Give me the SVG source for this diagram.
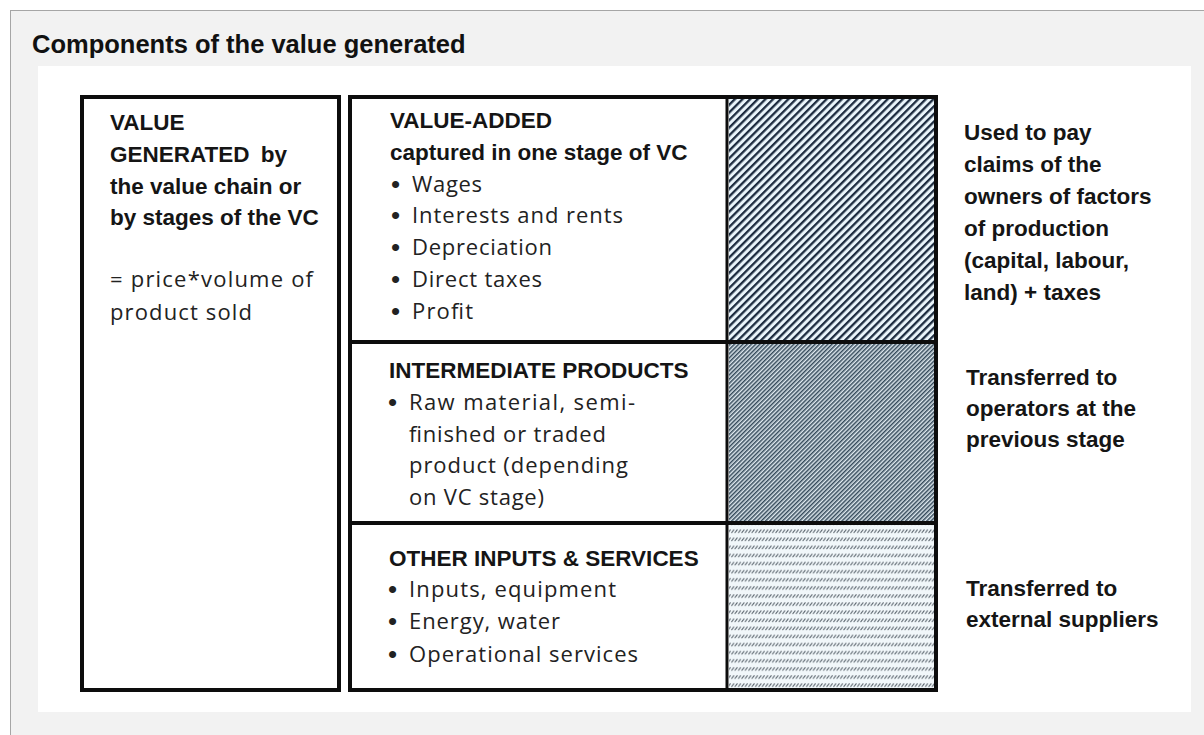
<svg xmlns="http://www.w3.org/2000/svg" width="1204" height="735" viewBox="0 0 1204 735">
<defs>
<style>
.title{font-family:"Liberation Sans",Arial,sans-serif;font-weight:bold;font-size:25.5px;fill:#111}
.hd{font-family:"Liberation Sans",Arial,sans-serif;font-weight:bold;font-size:22.5px;fill:#151515}
.bd{font-family:"Open Sans","Liberation Sans",sans-serif;font-size:22px;fill:#222}
.bul{font-family:"Liberation Sans",Arial,sans-serif;font-size:26px;fill:#222}
.box{fill:#fff;stroke:#0d0d0d;stroke-width:4}
.div{stroke:#0d0d0d;stroke-width:4;fill:none}
</style>
<pattern id="hVA" patternUnits="userSpaceOnUse" width="5.4" height="5.4" patternTransform="rotate(45)">
<rect width="5.4" height="5.4" fill="#eaf5fb"/>
<rect width="2.3" height="5.4" fill="#1c2b3f"/>
</pattern>
<pattern id="hIP" patternUnits="userSpaceOnUse" width="3" height="3" patternTransform="rotate(45)">
<rect width="3" height="3" fill="#dfe9ef"/>
<rect width="1.5" height="3" fill="#34495a"/>
</pattern>
<pattern id="hOI" patternUnits="userSpaceOnUse" width="3.4" height="8.1">
<rect width="3.4" height="8.1" fill="#f1f7fa"/>
<line x1="0.4" y1="6.4" x2="3.0" y2="3.0" stroke="#59636c" stroke-width="1"/>
</pattern>
</defs>

<rect x="10.5" y="10.5" width="1200" height="730" fill="#f2f2f2" stroke="#a6a6a6" stroke-width="1"/>
<text class="title" x="32" y="53">Components of the value generated</text>
<rect x="38" y="66" width="1153" height="646" fill="#fff"/>

<g id="connectors"/>

<g id="value-generated">
<rect class="box" x="82" y="97" width="257" height="593"/>
<text class="hd" x="110" y="130">VALUE</text>
<text class="hd" x="110" y="162"><tspan>GENERATED </tspan><tspan dx="5">by</tspan></text>
<text class="hd" x="110" y="194">the value chain or</text>
<text class="hd" x="110" y="225">by stages of the VC</text>
<text class="bd" x="110" y="287" textLength="203" lengthAdjust="spacing">= price*volume of</text>
<text class="bd" x="110" y="320" textLength="142" lengthAdjust="spacing">product sold</text>
</g>

<g id="components-frame">
<rect class="box" x="350" y="97" width="586" height="593"/>
<rect x="729" y="99" width="205" height="243" fill="url(#hVA)"/>
<rect x="729" y="342" width="205" height="181" fill="url(#hIP)"/>
<rect x="729" y="523" width="205" height="165" fill="url(#hOI)"/>
<line class="div" x1="350" y1="342" x2="936" y2="342"/>
<line class="div" x1="350" y1="523" x2="936" y2="523"/>
<line class="div" x1="727" y1="97" x2="727" y2="690" style="stroke-width:3"/>
<rect x="350" y="97" width="586" height="593" fill="none" stroke="#0d0d0d" stroke-width="4"/>
</g>

<g id="value-added">
<text class="hd" x="390" y="128">VALUE-ADDED</text>
<text class="hd" x="390" y="160">captured in one stage of VC</text>
<text class="bul" x="391" y="193">•</text>
<text class="bd" x="412" y="192" textLength="70" lengthAdjust="spacing">Wages</text>
<text class="bul" x="391" y="224">•</text>
<text class="bd" x="412" y="223" textLength="211" lengthAdjust="spacing">Interests and rents</text>
<text class="bul" x="391" y="256">•</text>
<text class="bd" x="412" y="255" textLength="140" lengthAdjust="spacing">Depreciation</text>
<text class="bul" x="391" y="288">•</text>
<text class="bd" x="412" y="287" textLength="130" lengthAdjust="spacing">Direct taxes</text>
<text class="bul" x="391" y="320">•</text>
<text class="bd" x="412" y="319" textLength="61" lengthAdjust="spacing">Profit</text>
</g>

<g id="intermediate-products">
<text class="hd" x="389" y="378">INTERMEDIATE PRODUCTS</text>
<text class="bul" x="388" y="411">•</text>
<text class="bd" x="409" y="410" textLength="226" lengthAdjust="spacing">Raw material,  semi-</text>
<text class="bd" x="409" y="442" textLength="197" lengthAdjust="spacing">finished or traded</text>
<text class="bd" x="409" y="473" textLength="219" lengthAdjust="spacing">product (depending</text>
<text class="bd" x="409" y="505" textLength="135" lengthAdjust="spacing">on VC stage)</text>
</g>

<g id="other-inputs">
<text class="hd" x="389" y="566">OTHER INPUTS &amp; SERVICES</text>
<text class="bul" x="388" y="598">•</text>
<text class="bd" x="409" y="597" textLength="207" lengthAdjust="spacing">Inputs, equipment</text>
<text class="bul" x="388" y="630">•</text>
<text class="bd" x="409" y="629" textLength="151" lengthAdjust="spacing">Energy, water</text>
<text class="bul" x="388" y="663">•</text>
<text class="bd" x="409" y="662" textLength="229" lengthAdjust="spacing">Operational  services</text>
</g>

<g id="label-value-added">
<text class="hd" x="964" y="140">Used to pay</text>
<text class="hd" x="964" y="172">claims of the</text>
<text class="hd" x="964" y="204">owners of factors</text>
<text class="hd" x="964" y="236">of production</text>
<text class="hd" x="964" y="268">(capital, labour,</text>
<text class="hd" x="964" y="300">land) + taxes</text>
</g>

<g id="label-intermediate">
<text class="hd" x="966" y="385">Transferred to</text>
<text class="hd" x="966" y="416">operators at the</text>
<text class="hd" x="966" y="447">previous stage</text>
</g>

<g id="label-other">
<text class="hd" x="966" y="596">Transferred to</text>
<text class="hd" x="966" y="627">external suppliers</text>
</g>
</svg>
